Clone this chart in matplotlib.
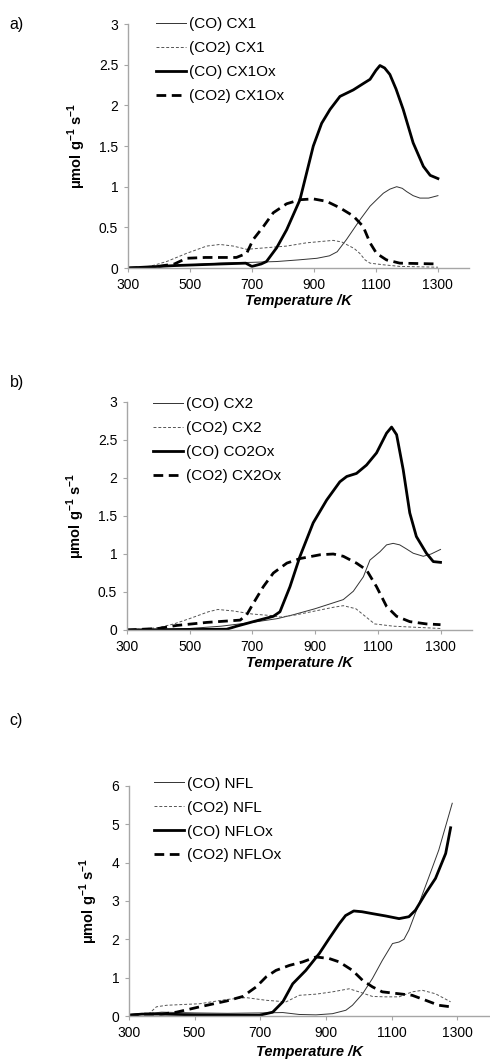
import matplotlib.pyplot as plt

plt.rcParams['font.family'] = ['Liberation Sans', 'DejaVu Sans']
plt.rcParams['mathtext.fontset'] = 'custom'
plt.rcParams['mathtext.rm'] = 'Liberation Sans'
plt.rcParams['mathtext.bf'] = 'Liberation Sans:bold'

# ---- panel a ----
a_co_cx1_t = [300, 400, 500, 600, 700, 780, 850, 910, 950, 975, 1005, 1048, 1081, 1105, 1124, 1145, 1167, 1185, 1199, 1220, 1242, 1270, 1300]
a_co_cx1_v = [0.0, 0.02, 0.04, 0.06, 0.07, 0.08, 0.10, 0.12, 0.15, 0.20, 0.35, 0.59, 0.76, 0.85, 0.92, 0.97, 1.0, 0.98, 0.94, 0.89, 0.86, 0.86, 0.89]
a_co2_cx1_t = [300, 371, 425, 489, 554, 597, 640, 683, 747, 812, 876, 962, 990, 1005, 1030, 1048, 1065, 1081, 1124, 1177, 1300]
a_co2_cx1_v = [0.0, 0.02, 0.08, 0.18, 0.27, 0.29, 0.27, 0.23, 0.25, 0.27, 0.31, 0.34, 0.32, 0.29, 0.24, 0.18, 0.10, 0.06, 0.04, 0.02, 0.01]
a_co_ox_t = [300, 450, 600, 680, 700, 730, 747, 780, 812, 855, 898, 925, 952, 984, 1027, 1060, 1081, 1100, 1113, 1128, 1145, 1165, 1188, 1220, 1253, 1275, 1300]
a_co_ox_v = [0.0, 0.03, 0.05, 0.06, 0.02, 0.05, 0.08, 0.25, 0.47, 0.84, 1.5, 1.78, 1.95, 2.11, 2.19, 2.27, 2.32, 2.43, 2.49, 2.46, 2.38, 2.2, 1.95, 1.54, 1.25, 1.14, 1.10]
a_co2_ox_t = [300, 380, 450, 489, 550, 650, 683, 704, 737, 769, 812, 855, 898, 941, 984, 1027, 1059, 1081, 1102, 1134, 1177, 1300]
a_co2_ox_v = [0.0, 0.01, 0.05, 0.12, 0.13, 0.13, 0.18, 0.35, 0.51, 0.68, 0.79, 0.84, 0.85, 0.82, 0.74, 0.64, 0.51, 0.31, 0.18, 0.10, 0.06, 0.05]

# ---- panel b ----
b_co_cx2_t = [300, 500, 600, 700, 780, 830, 900, 990, 1022, 1054, 1075, 1107, 1128, 1149, 1170, 1190, 1213, 1245, 1270, 1300]
b_co_cx2_v = [0.0, 0.02, 0.05, 0.10, 0.15, 0.20, 0.28, 0.40, 0.51, 0.70, 0.92, 1.03, 1.12, 1.14, 1.12, 1.07, 1.01, 0.97, 1.0, 1.06]
b_co2_cx2_t = [300, 400, 450, 500, 560, 590, 640, 700, 760, 790, 840, 900, 960, 990, 1030, 1060, 1090, 1150, 1250, 1300]
b_co2_cx2_v = [0.0, 0.03, 0.08, 0.15, 0.24, 0.27, 0.25, 0.21, 0.19, 0.17, 0.20, 0.25, 0.30, 0.32, 0.28, 0.18, 0.08, 0.05, 0.03, 0.02]
b_co_ox_t = [300, 618, 650, 703, 767, 788, 820, 852, 894, 937, 979, 1001, 1032, 1064, 1096, 1128, 1144, 1160, 1181, 1202, 1223, 1255, 1277, 1300]
b_co_ox_v = [0.0, 0.01, 0.05, 0.11, 0.18, 0.24, 0.57, 0.97, 1.41, 1.71, 1.95, 2.02, 2.06, 2.17, 2.33, 2.59, 2.67, 2.57, 2.11, 1.54, 1.23, 1.01, 0.90, 0.89]
b_co2_ox_t = [300, 400, 459, 555, 661, 682, 703, 735, 767, 810, 852, 916, 958, 990, 1032, 1064, 1096, 1128, 1160, 1202, 1255, 1300]
b_co2_ox_v = [0.0, 0.02, 0.06, 0.10, 0.13, 0.20, 0.35, 0.57, 0.75, 0.88, 0.94, 0.99, 1.0, 0.97, 0.88, 0.79, 0.57, 0.31, 0.18, 0.11, 0.08, 0.07]

# ---- panel c ----
c_co_nfl_t = [300, 400, 500, 600, 700, 769, 819, 870, 920, 961, 981, 1012, 1042, 1072, 1103, 1123, 1138, 1153, 1184, 1214, 1244, 1285]
c_co_nfl_v = [0.02, 0.10, 0.08, 0.07, 0.08, 0.09, 0.04, 0.03, 0.06, 0.15, 0.28, 0.58, 0.98, 1.45, 1.89, 1.93, 2.0, 2.24, 2.94, 3.63, 4.33, 5.55]
c_co2_nfl_t = [300, 360, 384, 415, 516, 597, 657, 718, 779, 819, 870, 920, 971, 1001, 1042, 1082, 1123, 1163, 1194, 1234, 1280]
c_co2_nfl_v = [0.02, 0.05, 0.24, 0.28, 0.32, 0.43, 0.48, 0.41, 0.37, 0.54, 0.57, 0.63, 0.71, 0.63, 0.51, 0.50, 0.50, 0.63, 0.67, 0.58, 0.37]
c_co_ox_t = [300, 340, 400, 500, 600, 698, 738, 769, 799, 839, 880, 910, 941, 960, 985, 1010, 1042, 1082, 1123, 1153, 1173, 1204, 1234, 1265, 1280]
c_co_ox_v = [0.02, 0.05, 0.05, 0.03, 0.02, 0.02, 0.10, 0.37, 0.84, 1.19, 1.63, 2.02, 2.41, 2.62, 2.74, 2.72, 2.67, 2.61, 2.54, 2.59, 2.76, 3.2, 3.59, 4.24, 4.91]
c_co2_ox_t = [300, 350, 400, 445, 516, 597, 647, 688, 718, 748, 789, 829, 870, 910, 941, 981, 1012, 1042, 1072, 1123, 1163, 1204, 1244, 1280]
c_co2_ox_v = [0.02, 0.05, 0.05, 0.10, 0.24, 0.39, 0.51, 0.76, 1.02, 1.19, 1.32, 1.41, 1.54, 1.50, 1.41, 1.19, 0.93, 0.76, 0.63, 0.58, 0.54, 0.41, 0.28, 0.24]

panels = [
    dict(letter='a)', rect=[0.261, 0.7469, 0.696, 0.2304], ymax=3, ystep=0.5,
         series=[(a_co_cx1_t, a_co_cx1_v, '(CO) CX1'), (a_co2_cx1_t, a_co2_cx1_v, '(CO2) CX1'),
                 (a_co_ox_t, a_co_ox_v, '(CO) CX1Ox'), (a_co2_ox_t, a_co2_ox_v, '(CO2) CX1Ox')],
         leg=(0.318, 0.9837), letter_y=0.984, xpad=1.5),
    dict(letter='b)', rect=[0.259, 0.4051, 0.704, 0.2153], ymax=3, ystep=0.5,
         series=[(b_co_cx2_t, b_co_cx2_v, '(CO) CX2'), (b_co2_cx2_t, b_co2_cx2_v, '(CO2) CX2'),
                 (b_co_ox_t, b_co_ox_v, '(CO) CO2Ox'), (b_co2_ox_t, b_co2_ox_v, '(CO2) CX2Ox')],
         leg=(0.312, 0.6247), letter_y=0.646, xpad=2.0),
    dict(letter='c)', rect=[0.263, 0.0406, 0.737, 0.2172], ymax=6, ystep=1,
         series=[(c_co_nfl_t, c_co_nfl_v, '(CO) NFL'), (c_co2_nfl_t, c_co2_nfl_v, '(CO2) NFL'),
                 (c_co_ox_t, c_co_ox_v, '(CO) NFLOx'), (c_co2_ox_t, c_co2_ox_v, '(CO2) NFLOx')],
         leg=(0.314, 0.2666), letter_y=0.327, xpad=3.5),
]

styles = [
    dict(color='#333333', lw=0.7, ls='-'),
    dict(color='#555555', lw=0.7, ls=(0, (3, 2))),
    dict(color='black', lw=2.0, ls='-'),
    dict(color='black', lw=2.0, ls=(0, (3.5, 2))),
]

fig = plt.figure(figsize=(4.9, 10.59), dpi=100)

for p in panels:
    ax = fig.add_axes(p['rect'])
    for (t, v, lab), st in zip(p['series'], styles):
        ax.plot(t, v, label=lab, **st)
    ax.set_xlim(300, 1400)
    ax.set_ylim(0, p['ymax'])
    ax.set_xticks([300, 500, 700, 900, 1100, 1300])
    n = int(round(p['ymax'] / p['ystep']))
    yt = [i * p['ystep'] for i in range(n + 1)]
    ax.set_yticks(yt)
    ax.set_yticklabels(['%g' % y for y in yt])
    for s in ['top', 'right']:
        ax.spines[s].set_visible(False)
    for s in ['left', 'bottom']:
        ax.spines[s].set_color('#a6a6a6')
        ax.spines[s].set_linewidth(1.0)
    ax.tick_params(axis='both', direction='out', length=3, color='#a6a6a6', labelsize=10, pad=4)
    ax.set_ylabel(r'μmol g$^{\mathbf{-1}}$ s$^{\mathbf{-1}}$', fontsize=10.5, fontweight='bold', labelpad=8)
    ax.set_xlabel('Temperature /K', fontsize=10.5, fontweight='bold', fontstyle='italic', labelpad=p['xpad'])
    ax.legend(loc='upper left', bbox_to_anchor=p['leg'], bbox_transform=fig.transFigure,
              frameon=False, fontsize=11, handlelength=2.0, handletextpad=0.15,
              labelspacing=0.65, borderpad=0, borderaxespad=0)
    fig.text(0.02, p['letter_y'], p['letter'], fontsize=11.5, va='top', ha='left')

fig.savefig('out.png', dpi=100)
